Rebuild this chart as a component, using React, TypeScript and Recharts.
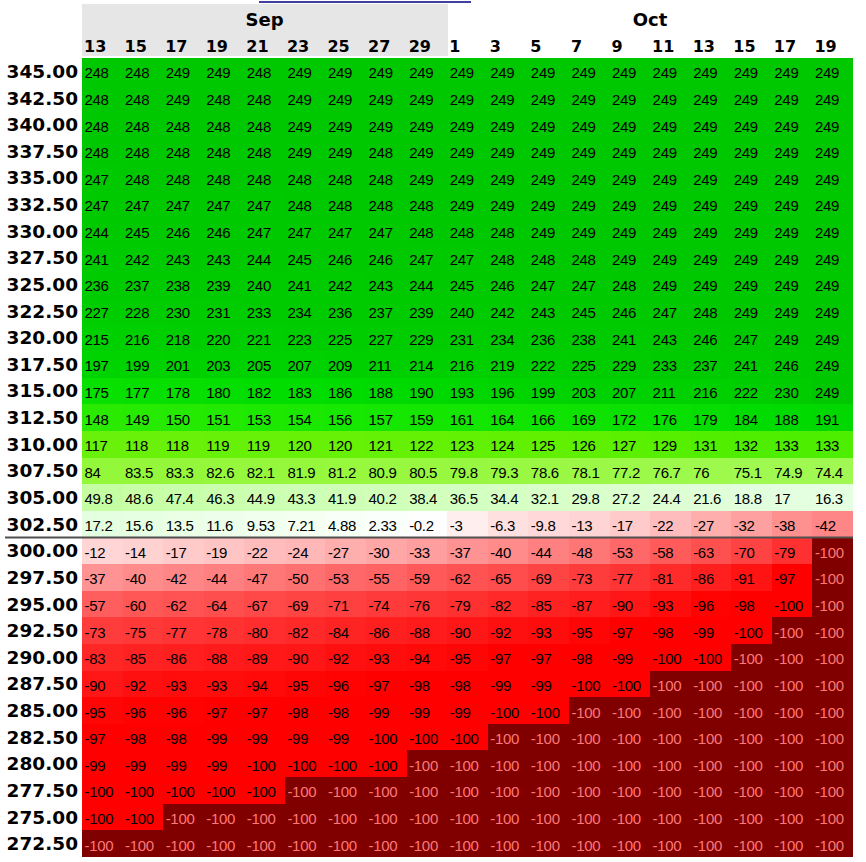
import { Bar, BarChart, Cell, LabelList, ReferenceLine, XAxis, YAxis } from 'recharts'

// columns (expiry dates) left to right
const months = ['Sep', 'Sep', 'Sep', 'Sep', 'Sep', 'Sep', 'Sep', 'Sep', 'Sep', 'Oct', 'Oct', 'Oct', 'Oct', 'Oct', 'Oct', 'Oct', 'Oct', 'Oct', 'Oct']
const days = ['13', '15', '17', '19', '21', '23', '25', '27', '29', '1', '3', '5', '7', '9', '11', '13', '15', '17', '19']

// rows (underlying price) top to bottom
const strikes = [
    '345.00', '342.50', '340.00', '337.50', '335.00', '332.50', '330.00', '327.50', '325.00', '322.50',
    '320.00', '317.50', '315.00', '312.50', '310.00', '307.50', '305.00', '302.50', '300.00', '297.50',
    '295.00', '292.50', '290.00', '287.50', '285.00', '282.50', '280.00', '277.50', '275.00', '272.50',
]

// profit / loss % per cell, one list per row, same order as strikes
const values: number[][] = [
    [248, 248, 249, 249, 248, 249, 249, 249, 249, 249, 249, 249, 249, 249, 249, 249, 249, 249, 249],
    [248, 248, 249, 248, 248, 249, 249, 249, 249, 249, 249, 249, 249, 249, 249, 249, 249, 249, 249],
    [248, 248, 248, 248, 248, 249, 249, 249, 249, 249, 249, 249, 249, 249, 249, 249, 249, 249, 249],
    [248, 248, 248, 248, 248, 249, 249, 248, 249, 249, 249, 249, 249, 249, 249, 249, 249, 249, 249],
    [247, 248, 248, 248, 248, 248, 248, 248, 249, 249, 249, 249, 249, 249, 249, 249, 249, 249, 249],
    [247, 247, 247, 247, 247, 248, 248, 248, 248, 249, 249, 249, 249, 249, 249, 249, 249, 249, 249],
    [244, 245, 246, 246, 247, 247, 247, 247, 248, 248, 248, 249, 249, 249, 249, 249, 249, 249, 249],
    [241, 242, 243, 243, 244, 245, 246, 246, 247, 247, 248, 248, 248, 249, 249, 249, 249, 249, 249],
    [236, 237, 238, 239, 240, 241, 242, 243, 244, 245, 246, 247, 247, 248, 249, 249, 249, 249, 249],
    [227, 228, 230, 231, 233, 234, 236, 237, 239, 240, 242, 243, 245, 246, 247, 248, 249, 249, 249],
    [215, 216, 218, 220, 221, 223, 225, 227, 229, 231, 234, 236, 238, 241, 243, 246, 247, 249, 249],
    [197, 199, 201, 203, 205, 207, 209, 211, 214, 216, 219, 222, 225, 229, 233, 237, 241, 246, 249],
    [175, 177, 178, 180, 182, 183, 186, 188, 190, 193, 196, 199, 203, 207, 211, 216, 222, 230, 249],
    [148, 149, 150, 151, 153, 154, 156, 157, 159, 161, 164, 166, 169, 172, 176, 179, 184, 188, 191],
    [117, 118, 118, 119, 119, 120, 120, 121, 122, 123, 124, 125, 126, 127, 129, 131, 132, 133, 133],
    [84, 83.5, 83.3, 82.6, 82.1, 81.9, 81.2, 80.9, 80.5, 79.8, 79.3, 78.6, 78.1, 77.2, 76.7, 76, 75.1, 74.9, 74.4],
    [49.8, 48.6, 47.4, 46.3, 44.9, 43.3, 41.9, 40.2, 38.4, 36.5, 34.4, 32.1, 29.8, 27.2, 24.4, 21.6, 18.8, 17, 16.3],
    [17.2, 15.6, 13.5, 11.6, 9.53, 7.21, 4.88, 2.33, -0.2, -3, -6.3, -9.8, -13, -17, -22, -27, -32, -38, -42],
    [-12, -14, -17, -19, -22, -24, -27, -30, -33, -37, -40, -44, -48, -53, -58, -63, -70, -79, -100],
    [-37, -40, -42, -44, -47, -50, -53, -55, -59, -62, -65, -69, -73, -77, -81, -86, -91, -97, -100],
    [-57, -60, -62, -64, -67, -69, -71, -74, -76, -79, -82, -85, -87, -90, -93, -96, -98, -100, -100],
    [-73, -75, -77, -78, -80, -82, -84, -86, -88, -90, -92, -93, -95, -97, -98, -99, -100, -100, -100],
    [-83, -85, -86, -88, -89, -90, -92, -93, -94, -95, -97, -97, -98, -99, -100, -100, -100, -100, -100],
    [-90, -92, -93, -93, -94, -95, -96, -97, -98, -98, -99, -99, -100, -100, -100, -100, -100, -100, -100],
    [-95, -96, -96, -97, -97, -98, -98, -99, -99, -99, -100, -100, -100, -100, -100, -100, -100, -100, -100],
    [-97, -98, -98, -99, -99, -99, -99, -100, -100, -100, -100, -100, -100, -100, -100, -100, -100, -100, -100],
    [-99, -99, -99, -99, -100, -100, -100, -100, -100, -100, -100, -100, -100, -100, -100, -100, -100, -100, -100],
    [-100, -100, -100, -100, -100, -100, -100, -100, -100, -100, -100, -100, -100, -100, -100, -100, -100, -100, -100],
    [-100, -100, -100, -100, -100, -100, -100, -100, -100, -100, -100, -100, -100, -100, -100, -100, -100, -100, -100],
    [-100, -100, -100, -100, -100, -100, -100, -100, -100, -100, -100, -100, -100, -100, -100, -100, -100, -100, -100],
]

// how many bottom rows of each column are at full loss (dark cells)
const maxLossRows = [1, 1, 2, 2, 2, 3, 3, 3, 4, 4, 5, 5, 6, 6, 7, 7, 8, 9, 12]

// strike row index (top-down) above which the separator line sits
const separatorRow = 18

const W = 866
const H = 862
const MARGIN = { top: 6, right: 13, bottom: 5, left: 0 }
const Y_AXIS_W = 82
const HALF_COL = (W - Y_AXIS_W - MARGIN.right) / days.length / 2
const HEADER_BG = '#e6e6e6'

const colorStops: [number, number, number, number][] = [
    [250, 0, 200, 0],
    [230, 0, 204, 0],
    [200, 0, 210, 0],
    [185, 0, 220, 0],
    [155, 24, 232, 0],
    [125, 96, 240, 0],
    [80, 152, 248, 64],
    [45, 204, 255, 178],
    [17, 228, 255, 224],
    [0, 255, 255, 255],
    [-5, 255, 226, 226],
    [-15, 255, 208, 208],
    [-35, 255, 152, 152],
    [-60, 255, 86, 86],
    [-78, 255, 50, 50],
    [-90, 255, 22, 22],
    [-97, 255, 0, 0],
    [-100, 255, 0, 0],
]

function colorFor(v: number) {
    for (let i = 0; i < colorStops.length - 1; i++) {
        const [v0, r0, g0, b0] = colorStops[i]
        const [v1, r1, g1, b1] = colorStops[i + 1]
        if (v <= v0 && v >= v1) {
            const t = (v0 - v) / (v0 - v1)
            return `rgb(${Math.round(r0 + (r1 - r0) * t)},${Math.round(g0 + (g1 - g0) * t)},${Math.round(b0 + (b1 - b0) * t)})`
        }
    }
    return v > 0 ? 'rgb(0,200,0)' : 'rgb(255,0,0)'
}

const isMaxLoss = (row: number, col: number) => row >= strikes.length - maxLossRows[col]

const cellFill = (row: number, col: number) => (isMaxLoss(row, col) ? '#800000' : colorFor(values[row][col]))

// each cell is one unit of a stacked column
const chartData = days.map((day, c) => {
    const entry: Record<string, string | number> = { day, month: months[c] }
    strikes.forEach((_, r) => {
        entry[`s${r}`] = 1
    })
    return entry
})

const rowTicks = strikes.map((_, i) => i + 0.5)

function DayTick(props: any) {
    const { x, y, payload, index } = props
    const half = payload?.offset || HALF_COL
    return (
        <g>
            {months[index] === 'Sep' && (
                <rect x={x - half} y={y - 24} width={half * 2 + 0.5} height={24} fill={HEADER_BG} shapeRendering="crispEdges" />
            )}
            <text x={x - half + 2} y={y - 4} fontSize={16} fontWeight="bold" fontFamily="DejaVu Sans" fill="#000">
                {payload.value}
            </text>
        </g>
    )
}

function MonthTick(props: any) {
    const { x, y, payload, index } = props
    const half = payload?.offset || HALF_COL
    const month = months[index]
    const first = months.indexOf(month)
    const last = months.lastIndexOf(month)
    const center = (first + last) / 2
    return (
        <g>
            {month === 'Sep' && (
                <rect x={x - half} y={y - 28} width={half * 2 + 0.5} height={28} fill={HEADER_BG} shapeRendering="crispEdges" />
            )}
            {Math.floor(center) === index && (
                <text
                    x={x + (center - index) * half * 2}
                    y={y - 6}
                    textAnchor="middle"
                    fontSize={18}
                    fontWeight="bold"
                    fontFamily="DejaVu Sans"
                    fill="#000"
                >
                    {month}
                </text>
            )}
        </g>
    )
}

function renderCellLabel(props: any, row: number) {
    const { x, y, height, index } = props
    const dark = isMaxLoss(row, index)
    return (
        <text
            x={Number(x) + 2.5}
            y={Number(y) + Number(height) / 2 + 1.5}
            dominantBaseline="central"
            fontSize={15}
            letterSpacing={-0.3}
            fontFamily="Liberation Sans"
            fill={dark ? '#ff7878' : '#000'}
        >
            {String(values[row][index])}
        </text>
    )
}

export default function App() {
    // stacked bottom-up, so the last strike goes first
    const rowOrder = strikes.map((_, i) => strikes.length - 1 - i)

    return (
        <div style={{ position: 'absolute', left: 0, top: 0, width: W, height: H, background: '#fff' }}>
            <BarChart width={W} height={H} data={chartData} margin={MARGIN} barCategoryGap={0} barGap={0}>
                <XAxis
                    xAxisId="day"
                    dataKey="day"
                    orientation="top"
                    height={24}
                    interval={0}
                    axisLine={false}
                    tickLine={false}
                    tickSize={0}
                    tick={DayTick}
                />
                <XAxis
                    xAxisId="month"
                    dataKey="month"
                    orientation="top"
                    height={28}
                    interval={0}
                    axisLine={false}
                    tickLine={false}
                    tickSize={0}
                    tick={MonthTick}
                />
                <YAxis
                    type="number"
                    domain={[0, strikes.length]}
                    ticks={rowTicks}
                    interval={0}
                    width={Y_AXIS_W}
                    axisLine={false}
                    tickLine={false}
                    tickSize={0}
                    tickMargin={4}
                    tickFormatter={(t: number) => strikes[strikes.length - 1 - Math.floor(t)]}
                    tick={{ fontSize: 18.5, fontWeight: 'bold', fill: '#000', fontFamily: 'DejaVu Sans' }}
                />
                {rowOrder.map((r) => (
                    <Bar key={r} dataKey={`s${r}`} stackId="grid" xAxisId="day" isAnimationActive={false}>
                        {days.map((_, c) => (
                            <Cell key={c} fill={cellFill(r, c)} shapeRendering="crispEdges" />
                        ))}
                        <LabelList dataKey={`s${r}`} content={(p: any) => renderCellLabel(p, r)} />
                    </Bar>
                ))}
                <ReferenceLine
                    y={strikes.length - separatorRow}
                    xAxisId="day"
                    ifOverflow="visible"
                    shape={(p: any) => (
                        <line x1={5} y1={p.y1} x2={p.x2} y2={p.y2} stroke="#505050" strokeWidth={2} />
                    )}
                />
            </BarChart>
            <div style={{ position: 'absolute', left: 259, top: 1, width: 212, height: 2, background: '#4040a0' }} />
        </div>
    )
}
